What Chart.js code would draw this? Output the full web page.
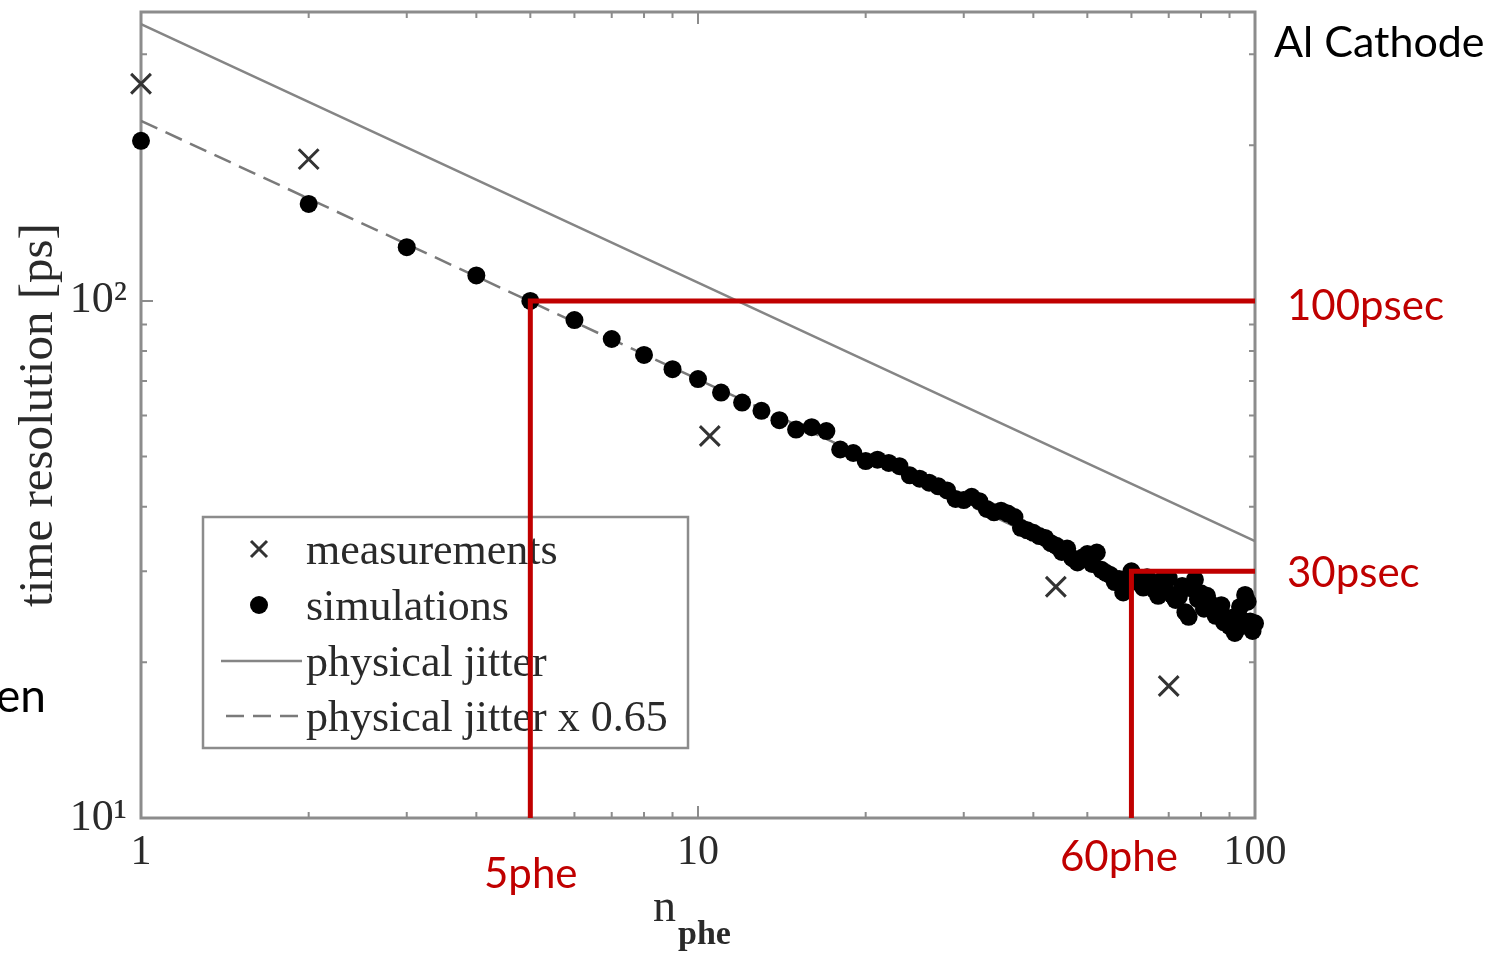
<!DOCTYPE html>
<html>
<head>
<meta charset="utf-8">
<script src="https://cdn.jsdelivr.net/npm/chart.js@4.4.1/dist/chart.umd.min.js"></script>
<style>
html, body { margin: 0; padding: 0; background: #fff; }
#wrap { width: 1501px; height: 954px; position: relative; }
</style>
</head>
<body>
<div id="wrap"><canvas id="chart"></canvas></div>
<script>
// measurements (crosses)
const measN  = [1, 2, 10.5, 43.9, 70];
const measPs = [263, 188, 54.8, 28.0, 18.0];

// simulations (dots)
const simN = [1, 2, 3, 4, 5, 6, 7, 8, 9, 10,
    11, 12, 13, 14, 15, 16, 17, 18, 19, 20,
    21, 22, 23, 24, 25, 26, 27, 28, 29, 30,
    31, 32, 33, 34, 35, 36, 37, 38, 39, 40,
    41, 42, 43, 44, 45, 46, 47, 48, 49, 50,
    51, 52, 53, 54, 55, 56, 57, 58, 59, 60,
    61, 62, 63, 64, 65, 66, 67, 68, 69, 70,
    71, 72, 73, 74, 75, 76, 77, 78, 79, 80,
    81, 82, 83, 84, 85, 86, 87, 88, 89, 90,
    91, 92, 93, 94, 95, 96, 97, 98, 99, 100];
const simPs = [204, 154, 127, 112, 100, 91.8, 84.4, 78.6, 73.8, 70.6,
    66.5, 63.6, 61.3, 58.8, 56.4, 57.0, 56.0, 51.6, 50.8, 49.0,
    49.3, 48.6, 47.9, 46.0, 45.3, 44.5, 43.8, 43.0, 41.4, 41.2,
    41.8, 41.0, 39.6, 39.0, 39.3, 38.8, 38.2, 36.4, 36.0, 35.6,
    35.1, 34.8, 34.0, 33.6, 32.7, 33.2, 31.8, 31.2, 31.9, 32.4,
    31.0, 32.6, 30.2, 29.8, 29.5, 28.6, 29.0, 27.3, 28.8, 30.0,
    29.3, 28.5, 27.9, 29.2, 28.2, 27.6, 26.9, 28.8, 27.5, 29.1,
    27.0, 26.4, 26.8, 28.1, 25.0, 24.5, 27.8, 28.9, 26.5, 27.2,
    25.4, 26.9, 26.0, 25.2, 24.6, 24.9, 25.8, 23.9, 24.2, 23.5,
    24.4, 22.8, 23.3, 25.6, 24.1, 27.0, 26.2, 24.0, 23.0, 23.8];

// physical jitter lines
const jitterN    = [1, 10, 100];
const jitterPs   = [343, 108.5, 34.3];
const jitter65N  = [1, 100];
const jitter65Ps = [223, 22.3];

// red guide lines
const mark5N   = [5, 5, 100];
const mark5Ps  = [10, 100, 100];
const mark60N  = [60, 60, 100];
const mark60Ps = [10, 30, 30];

const xTickVals = [1, 2, 3, 4, 5, 6, 7, 8, 9, 10, 20, 30, 40, 50, 60, 70, 80, 90, 100];
const yTickVals = [10, 20, 30, 40, 50, 60, 70, 80, 90, 100, 200, 300];
const xLabels = { 1: '1', 10: '10', 100: '100' };
const yLabels = { 10: '10\u00B9', 100: '10\u00B2' };

const legendNames = ['measurements', 'simulations', 'physical jitter', 'physical jitter x 0.65'];

const RED = '#C00000';
const INK = '#2a2a2a';
const SERIF = '"Liberation Serif", "DejaVu Serif", serif';
const SANS = 'Lato, "Open Sans", sans-serif';

const pts = (xs, ys) => xs.map((x, i) => ({ x: x, y: ys[i] }));

Chart.defaults.font.family = SERIF;

const frameTicks = {
    id: 'frameTicks',
    beforeDatasetsDraw(chart) {
        const { ctx, chartArea: a, scales } = chart;
        ctx.save();
        ctx.strokeStyle = '#8c8c8c';
        ctx.lineWidth = 2;
        scales.x.ticks.forEach(t => {
            const px = scales.x.getPixelForValue(t.value);
            const len = xLabels[t.value] ? 12 : 6;
            ctx.beginPath();
            ctx.moveTo(px, a.bottom); ctx.lineTo(px, a.bottom - len);
            ctx.moveTo(px, a.top); ctx.lineTo(px, a.top + len);
            ctx.stroke();
        });
        scales.y.ticks.forEach(t => {
            const py = scales.y.getPixelForValue(t.value);
            const len = yLabels[t.value] ? 12 : 6;
            ctx.beginPath();
            ctx.moveTo(a.left, py); ctx.lineTo(a.left + len, py);
            ctx.moveTo(a.right, py); ctx.lineTo(a.right - len, py);
            ctx.stroke();
        });
        ctx.lineWidth = 3;
        ctx.strokeRect(a.left, a.top, a.right - a.left, a.bottom - a.top);

        // legend box
        const bx = 203, by = 517, bw = 485, bh = 231;
        ctx.fillStyle = '#fff';
        ctx.fillRect(bx, by, bw, bh);
        ctx.strokeStyle = '#8c8c8c';
        ctx.lineWidth = 2.5;
        ctx.strokeRect(bx, by, bw, bh);

        const rowY = [549, 605, 661, 716];
        const ds = chart.data.datasets;
        // cross
        ctx.strokeStyle = ds[2].borderColor;
        ctx.lineWidth = 3;
        ctx.beginPath();
        ctx.moveTo(251, rowY[0] - 8); ctx.lineTo(267, rowY[0] + 8);
        ctx.moveTo(267, rowY[0] - 8); ctx.lineTo(251, rowY[0] + 8);
        ctx.stroke();
        // dot
        ctx.fillStyle = ds[3].backgroundColor;
        ctx.beginPath();
        ctx.arc(259, rowY[1], 9, 0, Math.PI * 2);
        ctx.fill();
        // solid
        ctx.strokeStyle = ds[4].borderColor;
        ctx.lineWidth = ds[4].borderWidth;
        ctx.beginPath();
        ctx.moveTo(221, rowY[2]); ctx.lineTo(302, rowY[2]);
        ctx.stroke();
        // dashed
        ctx.strokeStyle = ds[5].borderColor;
        ctx.setLineDash(ds[5].borderDash);
        ctx.beginPath();
        ctx.moveTo(226, rowY[3]); ctx.lineTo(302, rowY[3]);
        ctx.stroke();
        ctx.setLineDash([]);

        ctx.fillStyle = INK;
        ctx.font = '44px ' + SERIF;
        ctx.textBaseline = 'alphabetic';
        ctx.textAlign = 'left';
        legendNames.forEach((name, i) => ctx.fillText(name, 306, rowY[i] + 15));
        ctx.restore();
    },
    afterDraw(chart) {
        const { ctx } = chart;
        ctx.save();
        ctx.textBaseline = 'alphabetic';
        ctx.textAlign = 'left';
        // axis title n_phe
        ctx.fillStyle = INK;
        ctx.font = '46px ' + SERIF;
        ctx.fillText('n', 653, 921);
        ctx.font = 'bold 34px ' + SERIF;
        ctx.fillText('phe', 678, 944);

        ctx.fillStyle = '#000';
        ctx.font = '43px ' + SANS;
        ctx.fillText('Al Cathode', 1274, 57);
        ctx.font = '46px ' + SANS;
        ctx.fillText('en', -4, 712);

        ctx.fillStyle = RED;
        ctx.font = '42px ' + SANS;
        ctx.fillText('100psec', 1287, 320);
        ctx.fillText('30psec', 1287, 587);
        ctx.fillText('5phe', 484, 888);
        ctx.fillText('60phe', 1060, 871);
        ctx.restore();
    }
};

new Chart(document.getElementById('chart'), {
    type: 'scatter',
    data: {
        datasets: [
            { label: '5phe', data: pts(mark5N, mark5Ps), showLine: true, borderColor: RED, borderWidth: 5,
              borderJoinStyle: 'miter', pointRadius: 0, clip: false },
            { label: '60phe', data: pts(mark60N, mark60Ps), showLine: true, borderColor: RED, borderWidth: 5,
              borderJoinStyle: 'miter', pointRadius: 0, clip: false },
            { label: legendNames[0], data: pts(measN, measPs), pointStyle: 'crossRot', pointRadius: 14,
              borderColor: '#333', borderWidth: 3, clip: false },
            { label: legendNames[1], data: pts(simN, simPs), pointStyle: 'circle', pointRadius: 9,
              backgroundColor: '#000', borderColor: '#000', borderWidth: 0, clip: false },
            { label: legendNames[2], data: pts(jitterN, jitterPs), showLine: true, borderColor: '#858585',
              borderWidth: 2.5, pointRadius: 0 },
            { label: legendNames[3], data: pts(jitter65N, jitter65Ps), showLine: true, borderColor: '#7a7a7a',
              borderWidth: 2.5, borderDash: [18, 9], pointRadius: 0 }
        ]
    },
    options: {
        responsive: true,
        maintainAspectRatio: false,
        animation: false,
        layout: { autoPadding: false, padding: { left: 0, right: 246, top: 12, bottom: 0 } },
        plugins: { legend: { display: false }, tooltip: { enabled: false } },
        scales: {
            x: {
                type: 'logarithmic',
                min: 1, max: 100,
                afterBuildTicks: scale => { scale.ticks = xTickVals.map(v => ({ value: v })); },
                afterFit: scale => { scale.height = 136; scale.paddingLeft = 0; scale.paddingRight = 0; },
                grid: { display: false },
                border: { display: false },
                ticks: {
                    autoSkip: false, maxRotation: 0, padding: 2,
                    color: INK, font: { size: 42, family: SERIF },
                    callback: v => xLabels[v] || ''
                }
            },
            y: {
                type: 'logarithmic',
                min: 10, max: 362,
                afterBuildTicks: scale => { scale.ticks = yTickVals.map(v => ({ value: v })); },
                afterFit: scale => { scale.width = 141; scale.paddingTop = 0; scale.paddingBottom = 0; },
                grid: { display: false },
                border: { display: false },
                ticks: {
                    autoSkip: false, padding: 6,
                    color: INK, font: { size: 44, family: SERIF },
                    callback: v => yLabels[v] || ''
                },
                title: {
                    display: true, text: 'time resolution [ps]', color: INK,
                    font: { size: 49, family: SERIF }, padding: { top: 10, bottom: 0 }
                }
            }
        }
    },
    plugins: [frameTicks]
});
</script>
</body>
</html>
